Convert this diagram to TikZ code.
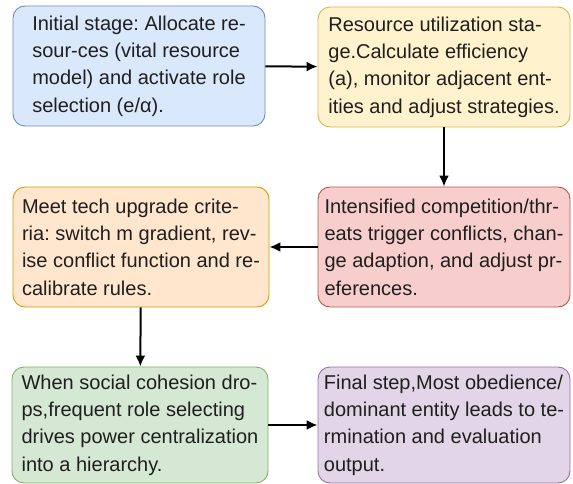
\documentclass[tikz,border=0pt]{standalone}
\usepackage{fontspec}
\setmainfont{Liberation Sans}
\usetikzlibrary{arrows.meta}
\frenchspacing
\definecolor{bluefill}{HTML}{DAE8FC}\definecolor{bluedraw}{HTML}{6C8EBF}
\definecolor{yellowfill}{HTML}{FFF2CC}\definecolor{yellowdraw}{HTML}{D6B656}
\definecolor{orangefill}{HTML}{FFE6CC}\definecolor{orangedraw}{HTML}{D79B00}
\definecolor{redfill}{HTML}{F8CECC}\definecolor{reddraw}{HTML}{B85450}
\definecolor{greenfill}{HTML}{D5E8D4}\definecolor{greendraw}{HTML}{82B366}
\definecolor{purplefill}{HTML}{E1D5E7}\definecolor{purpledraw}{HTML}{9673A6}
\tikzset{
  stage/.style={draw, rounded corners=12pt, line width=0.9pt,
    minimum width=252pt, minimum height=120pt, inner sep=0pt,
    align=left, text=black!88,
    font=\fontsize{20}{27.3}\selectfont},
}
\begin{document}
\begin{tikzpicture}[x=1pt,y=-1pt,>={Latex[length=11pt,width=10pt]},line width=2pt]
\useasboundingbox (0,0) rectangle (573,484);
% stages
\node[stage,fill=bluefill,draw=bluedraw] (init) at (139,66)
  {Initial stage: Allocate re-\\sour-ces (vital resource\\model) and activate role\\selection (e/α).};
\node[stage,fill=yellowfill,draw=yellowdraw] (use) at (444,67)
  {Resource utilization sta-\\ge.Calculate efficiency\\(a), monitor adjacent ent-\\ities and adjust strategies.};
\node[stage,fill=redfill,draw=reddraw] (conflict) at (444,247)
  {Intensified competition/thr-\\eats trigger conflicts, chan-\\ge adaption, and adjust pr-\\eferences.};
\node[stage,fill=orangefill,draw=orangedraw,minimum width=256pt] (upgrade) at (141,247)
  {Meet tech upgrade crite-\\ria: switch m gradient, rev-\\ise conflict function and re-\\calibrate rules.};
\node[stage,fill=greenfill,draw=greendraw,minimum width=256pt,minimum height=116pt] (social) at (140,425)
  {When social cohesion dro-\\ps,frequent role selecting\\drives power centralization\\into a hierarchy.};
\node[stage,fill=purplefill,draw=purpledraw,minimum height=116pt] (final) at (444,425)
  {Final step,Most obedience/\\dominant entity leads to te-\\rmination and evaluation\\output.};
% flow
\draw[->] (init) -- (use);
\draw[->] (use) -- (conflict);
\draw[->] (conflict) -- (upgrade);
\draw[->] (upgrade) -- (social);
\draw[->] (social) -- (final);
\end{tikzpicture}
\end{document}
